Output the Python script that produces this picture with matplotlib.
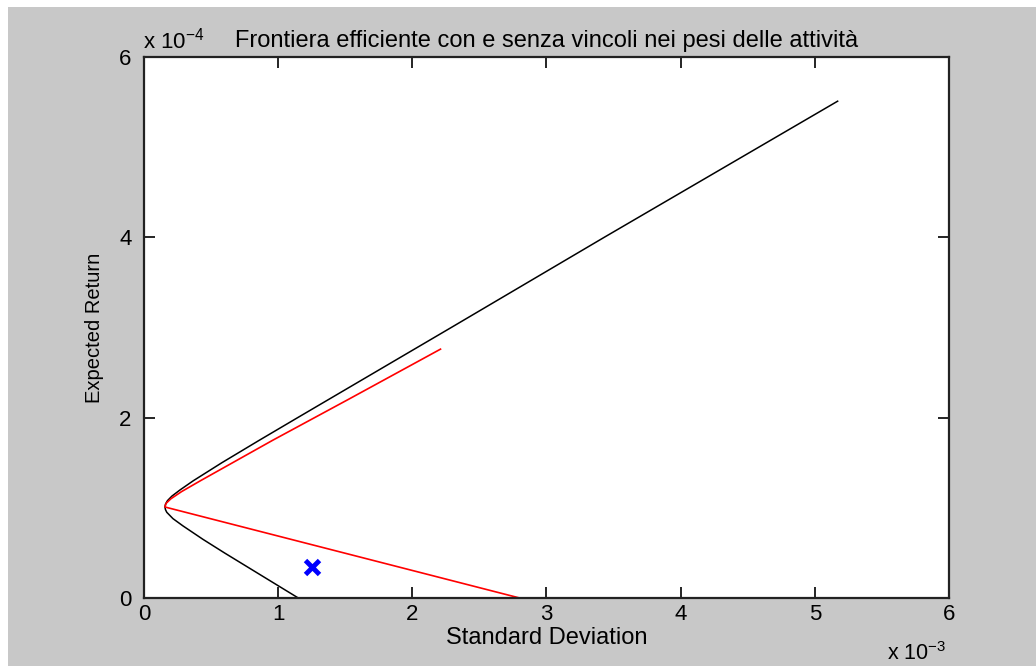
import matplotlib
matplotlib.use("Agg")
import matplotlib.pyplot as plt
from matplotlib.patches import Rectangle
from matplotlib.ticker import FuncFormatter, MultipleLocator

plt.rcParams['font.family'] = ['Liberation Sans', 'DejaVu Sans']
plt.rcParams['mathtext.fontset'] = 'custom'
plt.rcParams['mathtext.rm'] = 'Liberation Sans'

# --- data (std dev, expected return) ---
# frontier without weight constraints (black)
free_sd = [1.15e-3, 0.60e-3, 0.44e-3, 0.29e-3, 0.216e-3, 0.17e-3, 0.16e-3,
           0.156e-3, 0.16e-3, 0.175e-3, 0.208e-3, 0.27e-3, 0.367e-3,
           0.58e-3, 0.86e-3, 1.145e-3, 2.29e-3, 3.43e-3, 5.17e-3]
free_ret = [0.0, 0.50e-4, 0.65e-4, 0.80e-4, 0.88e-4, 0.95e-4, 0.98e-4,
            1.01e-4, 1.04e-4, 1.08e-4, 1.13e-4, 1.20e-4, 1.30e-4,
            1.50e-4, 1.75e-4, 2.00e-4, 3.00e-4, 4.00e-4, 5.51e-4]

# frontier with weight constraints (red)
bound_sd = [2.80e-3, 1.49e-3, 0.18e-3, 0.156e-3, 0.165e-3, 0.20e-3, 0.28e-3,
            0.42e-3, 0.96e-3, 1.52e-3, 2.21e-3]
bound_ret = [0.0, 0.50e-4, 1.00e-4, 1.01e-4, 1.05e-4, 1.10e-4, 1.18e-4,
             1.30e-4, 1.75e-4, 2.20e-4, 2.76e-4]

# single portfolio marker
point_sd = [1.25e-3]
point_ret = [0.34e-4]

GREY = '#c8c8c8'

fig = plt.figure(figsize=(10.36, 6.66), dpi=100, facecolor='white')
fig.patches.append(Rectangle((8 / 1036, 0), 1, 1 - 7 / 666,
                             transform=fig.transFigure, facecolor=GREY,
                             edgecolor='none', zorder=-10))

ax = fig.add_axes([144 / 1036, 68 / 666, 805 / 1036, 541 / 666])
ax.set_facecolor('white')

ax.plot(free_sd, free_ret, color='black', linewidth=1.1)
ax.plot(bound_sd, bound_ret, color='red', linewidth=1.2)
ax.plot(point_sd, point_ret, linestyle='none', marker='x', color='blue',
        markersize=10, markeredgewidth=3.5)

ax.set_xlim(0, 6e-3)
ax.set_ylim(0, 6e-4)
ax.xaxis.set_major_locator(MultipleLocator(1e-3))
ax.yaxis.set_major_locator(MultipleLocator(2e-4))
ax.xaxis.set_major_formatter(FuncFormatter(lambda v, p: f"{v / 1e-3:.0f}"))
ax.yaxis.set_major_formatter(FuncFormatter(lambda v, p: f"{v / 1e-4:.0f}"))

ax.tick_params(direction='in', length=8, width=1.2, top=True, right=True,
               labelsize=16, pad=4, colors='black')
ax.tick_params(axis='y', pad=9)
for s in ax.spines.values():
    s.set_linewidth(1.6)
    s.set_color('#222222')

ax.set_xlabel('Standard Deviation', fontsize=17, labelpad=2)
ax.set_ylabel('Expected Return', fontsize=14.5, labelpad=11)
ax.set_title('Frontiera efficiente con e senza vincoli nei pesi delle attività',
             fontsize=17, pad=7)

fig.text(143 / 1036, 1 - 48 / 666, r'x 10$^{-4}$', fontsize=16,
         ha='left', va='baseline')
fig.text(887 / 1036, 1 - 660 / 666, r'x 10$^{-3}$', fontsize=15.5,
         ha='left', va='baseline')

fig.savefig('out.png', dpi=100, facecolor=fig.get_facecolor())
